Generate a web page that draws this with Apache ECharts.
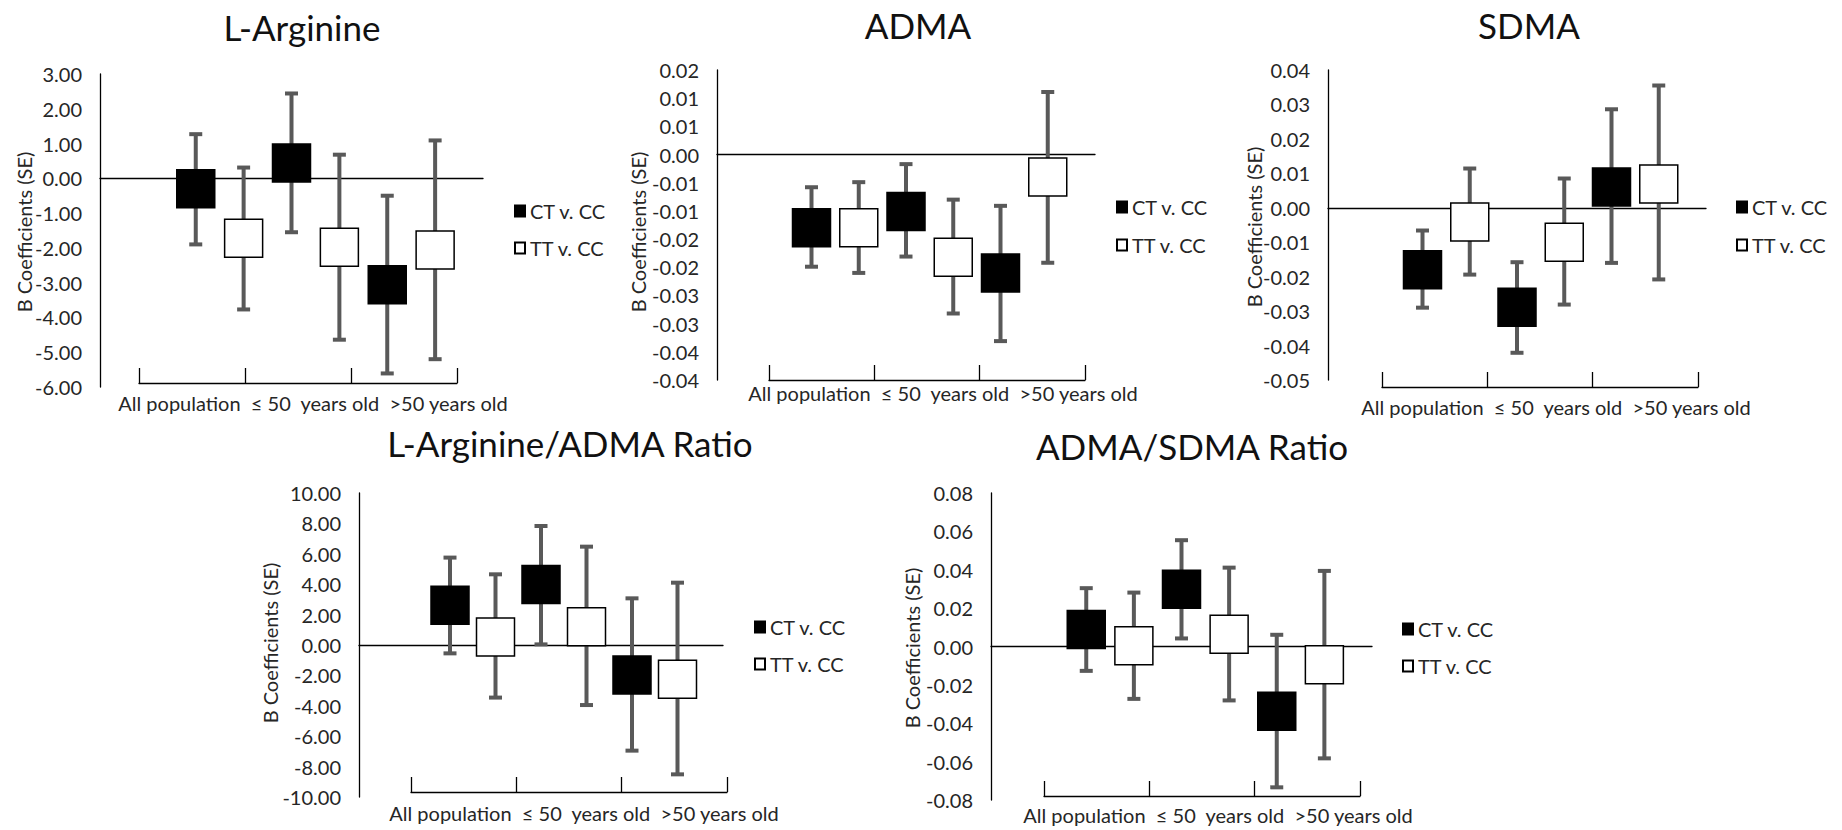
<!DOCTYPE html>
<html><head><meta charset="utf-8">
<script src="https://cdn.jsdelivr.net/npm/echarts@6/dist/echarts.min.js"></script>
<style>html,body{margin:0;padding:0;background:#fff}#c{width:1842px;height:830px}</style>
</head><body><div id="c"></div>
<script>
// ---------- data ----------
const categories = ['All population', '\u2264 50  years old', '>50 years old'];
const seriesNames = ['CT v. CC', 'TT v. CC'];
const titles = ['L-Arginine', 'ADMA', 'SDMA', 'L-Arginine/ADMA Ratio', 'ADMA/SDMA Ratio'];
const yAxisName = 'B Coefficients (SE)';
// each entry: [estimate, lower, upper] for the 3 categories
const lArginineCT = [[-0.30, -1.90, 1.27], [0.44, -1.55, 2.44], [-3.06, -5.61, -0.50]];
const lArginineTT = [[-1.72, -3.77, 0.31], [-1.98, -4.64, 0.68], [-2.06, -5.20, 1.09]];
const admaCT = [[-0.0130, -0.0199, -0.0058], [-0.0101, -0.0181, -0.0017], [-0.0210, -0.0331, -0.0091]];
const admaTT = [[-0.0130, -0.0210, -0.0049], [-0.0182, -0.0282, -0.0080], [-0.0040, -0.0192, 0.0111]];
const sdmaCT = [[-0.0180, -0.0290, -0.0066], [-0.0289, -0.0421, -0.0158], [0.0060, -0.0160, 0.0286]];
const sdmaTT = [[-0.0041, -0.0194, 0.0114], [-0.0100, -0.0281, 0.0085], [0.0069, -0.0208, 0.0355]];
const argAdmaCT = [[2.62, -0.55, 5.75], [3.98, 0.04, 7.83], [-1.97, -6.95, 3.07]];
const argAdmaTT = [[0.52, -3.46, 4.65], [1.20, -3.95, 6.47], [-2.26, -8.51, 4.10]];
const admaSdmaCT = [[0.0088, -0.0127, 0.0304], [0.0299, 0.0042, 0.0554], [-0.0338, -0.0734, 0.0061]];
const admaSdmaTT = [[0.0004, -0.0273, 0.0281], [0.0064, -0.0281, 0.0411], [-0.0095, -0.0583, 0.0394]];
// y-axis ticks: [min, max, interval]
const lArginineTicks = [-6, 3, 1];
const admaTicks = [-0.04, 0.015, 0.005];
const sdmaTicks = [-0.05, 0.04, 0.01];
const argAdmaTicks = [-10, 10, 2];
const admaSdmaTicks = [-0.08, 0.08, 0.02];

// ---------- layout ----------
const FONT = 'Lato';
const panels = [
  {ct: lArginineCT, tt: lArginineTT, ticks: lArginineTicks, grid: [100, 74, 383, 313], bracket: [139, 318, 383],
   title: [302, 27], xl: [313, 403], legend: [514, 201, 17], yn: [24, 232]},
  {ct: admaCT, tt: admaTT, ticks: admaTicks, grid: [717, 70, 378, 310], bracket: [769, 316, 380],
   title: [918, 25], xl: [943, 393], legend: [1116, 197, 18], yn: [638, 232]},
  {ct: sdmaCT, tt: sdmaTT, ticks: sdmaTicks, grid: [1328, 70, 378, 310], bracket: [1382, 316, 387],
   title: [1529, 25], xl: [1556, 407], legend: [1736, 197, 18], yn: [1254, 227]},
  {ct: argAdmaCT, tt: argAdmaTT, ticks: argAdmaTicks, grid: [359, 493, 364, 304], bracket: [411, 316, 792],
   title: [570, 443], xl: [584, 813], legend: [754, 617, 17], yn: [270, 643]},
  {ct: admaSdmaCT, tt: admaSdmaTT, ticks: admaSdmaTicks, grid: [991, 493, 381, 307], bracket: [1044, 316, 796],
   title: [1192, 446], xl: [1218, 815], legend: [1402, 619, 17], yn: [912, 648]}
];

function fmt(v) {
  const r = Math.sign(v) * Math.round(Math.abs(v) * 100 + 1e-6) / 100;
  return (Math.abs(r) < 1e-9 ? 0 : r).toFixed(2);
}

function renderErr(params, api) {
  const x = api.value(0), lo = api.value(1), hi = api.value(2);
  const a = api.coord([x, hi]), b = api.coord([x, lo]);
  const cap = 6.5;
  const st = {stroke: '#595959', lineWidth: 4};
  return {type: 'group', children: [
    {type: 'line', shape: {x1: a[0], y1: a[1], x2: b[0], y2: b[1]}, style: st},
    {type: 'line', shape: {x1: a[0] - cap, y1: a[1], x2: a[0] + cap, y2: a[1]}, style: st},
    {type: 'line', shape: {x1: b[0] - cap, y1: b[1], x2: b[0] + cap, y2: b[1]}, style: st}
  ]};
}

const grid = [], xAxis = [], yAxis = [], series = [], legend = [], graphic = [];
const axisLineStyle = {color: '#000', width: 1.3};
const labelText = categories.join('  ').replace(/ /g, '\u00a0');

panels.forEach((p, i) => {
  const g = p.grid;
  grid.push({left: g[0], top: g[1], width: g[2], height: g[3]});
  const br = p.bracket;
  grid.push({left: br[0], top: br[2] - 20, width: br[1], height: 20});
  const gi = 2 * i;
  xAxis.push({gridIndex: gi, type: 'value', min: 0, max: 8, axisLine: {show: true, onZero: true, lineStyle: axisLineStyle},
    axisTick: {show: false}, axisLabel: {show: false}, splitLine: {show: false}});
  xAxis.push({gridIndex: gi + 1, type: 'category', data: categories, boundaryGap: true,
    axisLine: {show: true, onZero: false, lineStyle: axisLineStyle},
    axisTick: {show: true, inside: true, length: 15, interval: 0, lineStyle: axisLineStyle},
    axisLabel: {show: false}, splitLine: {show: false}});
  yAxis.push({gridIndex: gi, type: 'value', min: p.ticks[0], max: p.ticks[1], interval: p.ticks[2],
    axisLine: {show: true, lineStyle: axisLineStyle}, axisTick: {show: false}, splitLine: {show: false},
    axisLabel: {formatter: fmt, fontSize: 20, fontFamily: FONT, color: '#262626', margin: 18}});
  yAxis.push({gridIndex: gi + 1, type: 'value', min: 0, max: 1, show: false});

  [p.ct, p.tt].forEach((arr, s) => {
    series.push({type: 'custom', name: seriesNames[s] + ' CI', xAxisIndex: gi, yAxisIndex: gi, z: 2,
      renderItem: renderErr, encode: {x: 0, y: [1, 2]},
      data: arr.map((d, k) => [2 + 2 * k + s, d[1], d[2]]), silent: true});
  });
  [p.ct, p.tt].forEach((arr, s) => {
    series.push({type: 'scatter', name: seriesNames[s], xAxisIndex: gi, yAxisIndex: gi, z: 3,
      symbol: 'rect', symbolSize: [38, 38],
      itemStyle: {color: s === 0 ? '#000' : '#fff', borderColor: '#000', borderWidth: 1.5, opacity: 1},
      data: arr.map((d, k) => [2 + 2 * k + s, d[0]]), silent: true});
  });

  legend.push({data: seriesNames, orient: 'vertical', left: p.legend[0], top: p.legend[1], padding: 0,
    itemWidth: 10, itemHeight: 11, itemGap: p.legend[2], selectedMode: false,
    textStyle: {fontSize: 20, fontFamily: FONT, color: '#262626'}});

  graphic.push({type: 'text', x: p.title[0], y: p.title[1], silent: true,
    style: {text: titles[i], fontSize: 35, fontFamily: FONT, fill: '#111', align: 'center', verticalAlign: 'middle'}});
  graphic.push({type: 'text', x: p.xl[0], y: p.xl[1], silent: true,
    style: {text: labelText, fontSize: 20, fontFamily: FONT, fill: '#262626', align: 'center', verticalAlign: 'middle'}});
  graphic.push({type: 'text', x: p.yn[0], y: p.yn[1], rotation: Math.PI / 2, silent: true,
    style: {text: yAxisName, fontSize: 20, fontFamily: FONT, fill: '#262626', align: 'center', verticalAlign: 'middle'}});
});

const chart = echarts.init(document.getElementById('c'), null, {renderer: 'svg'});
chart.setOption({backgroundColor: '#fff', animation: false, grid, xAxis, yAxis, series, legend, graphic});
</script></body></html>
